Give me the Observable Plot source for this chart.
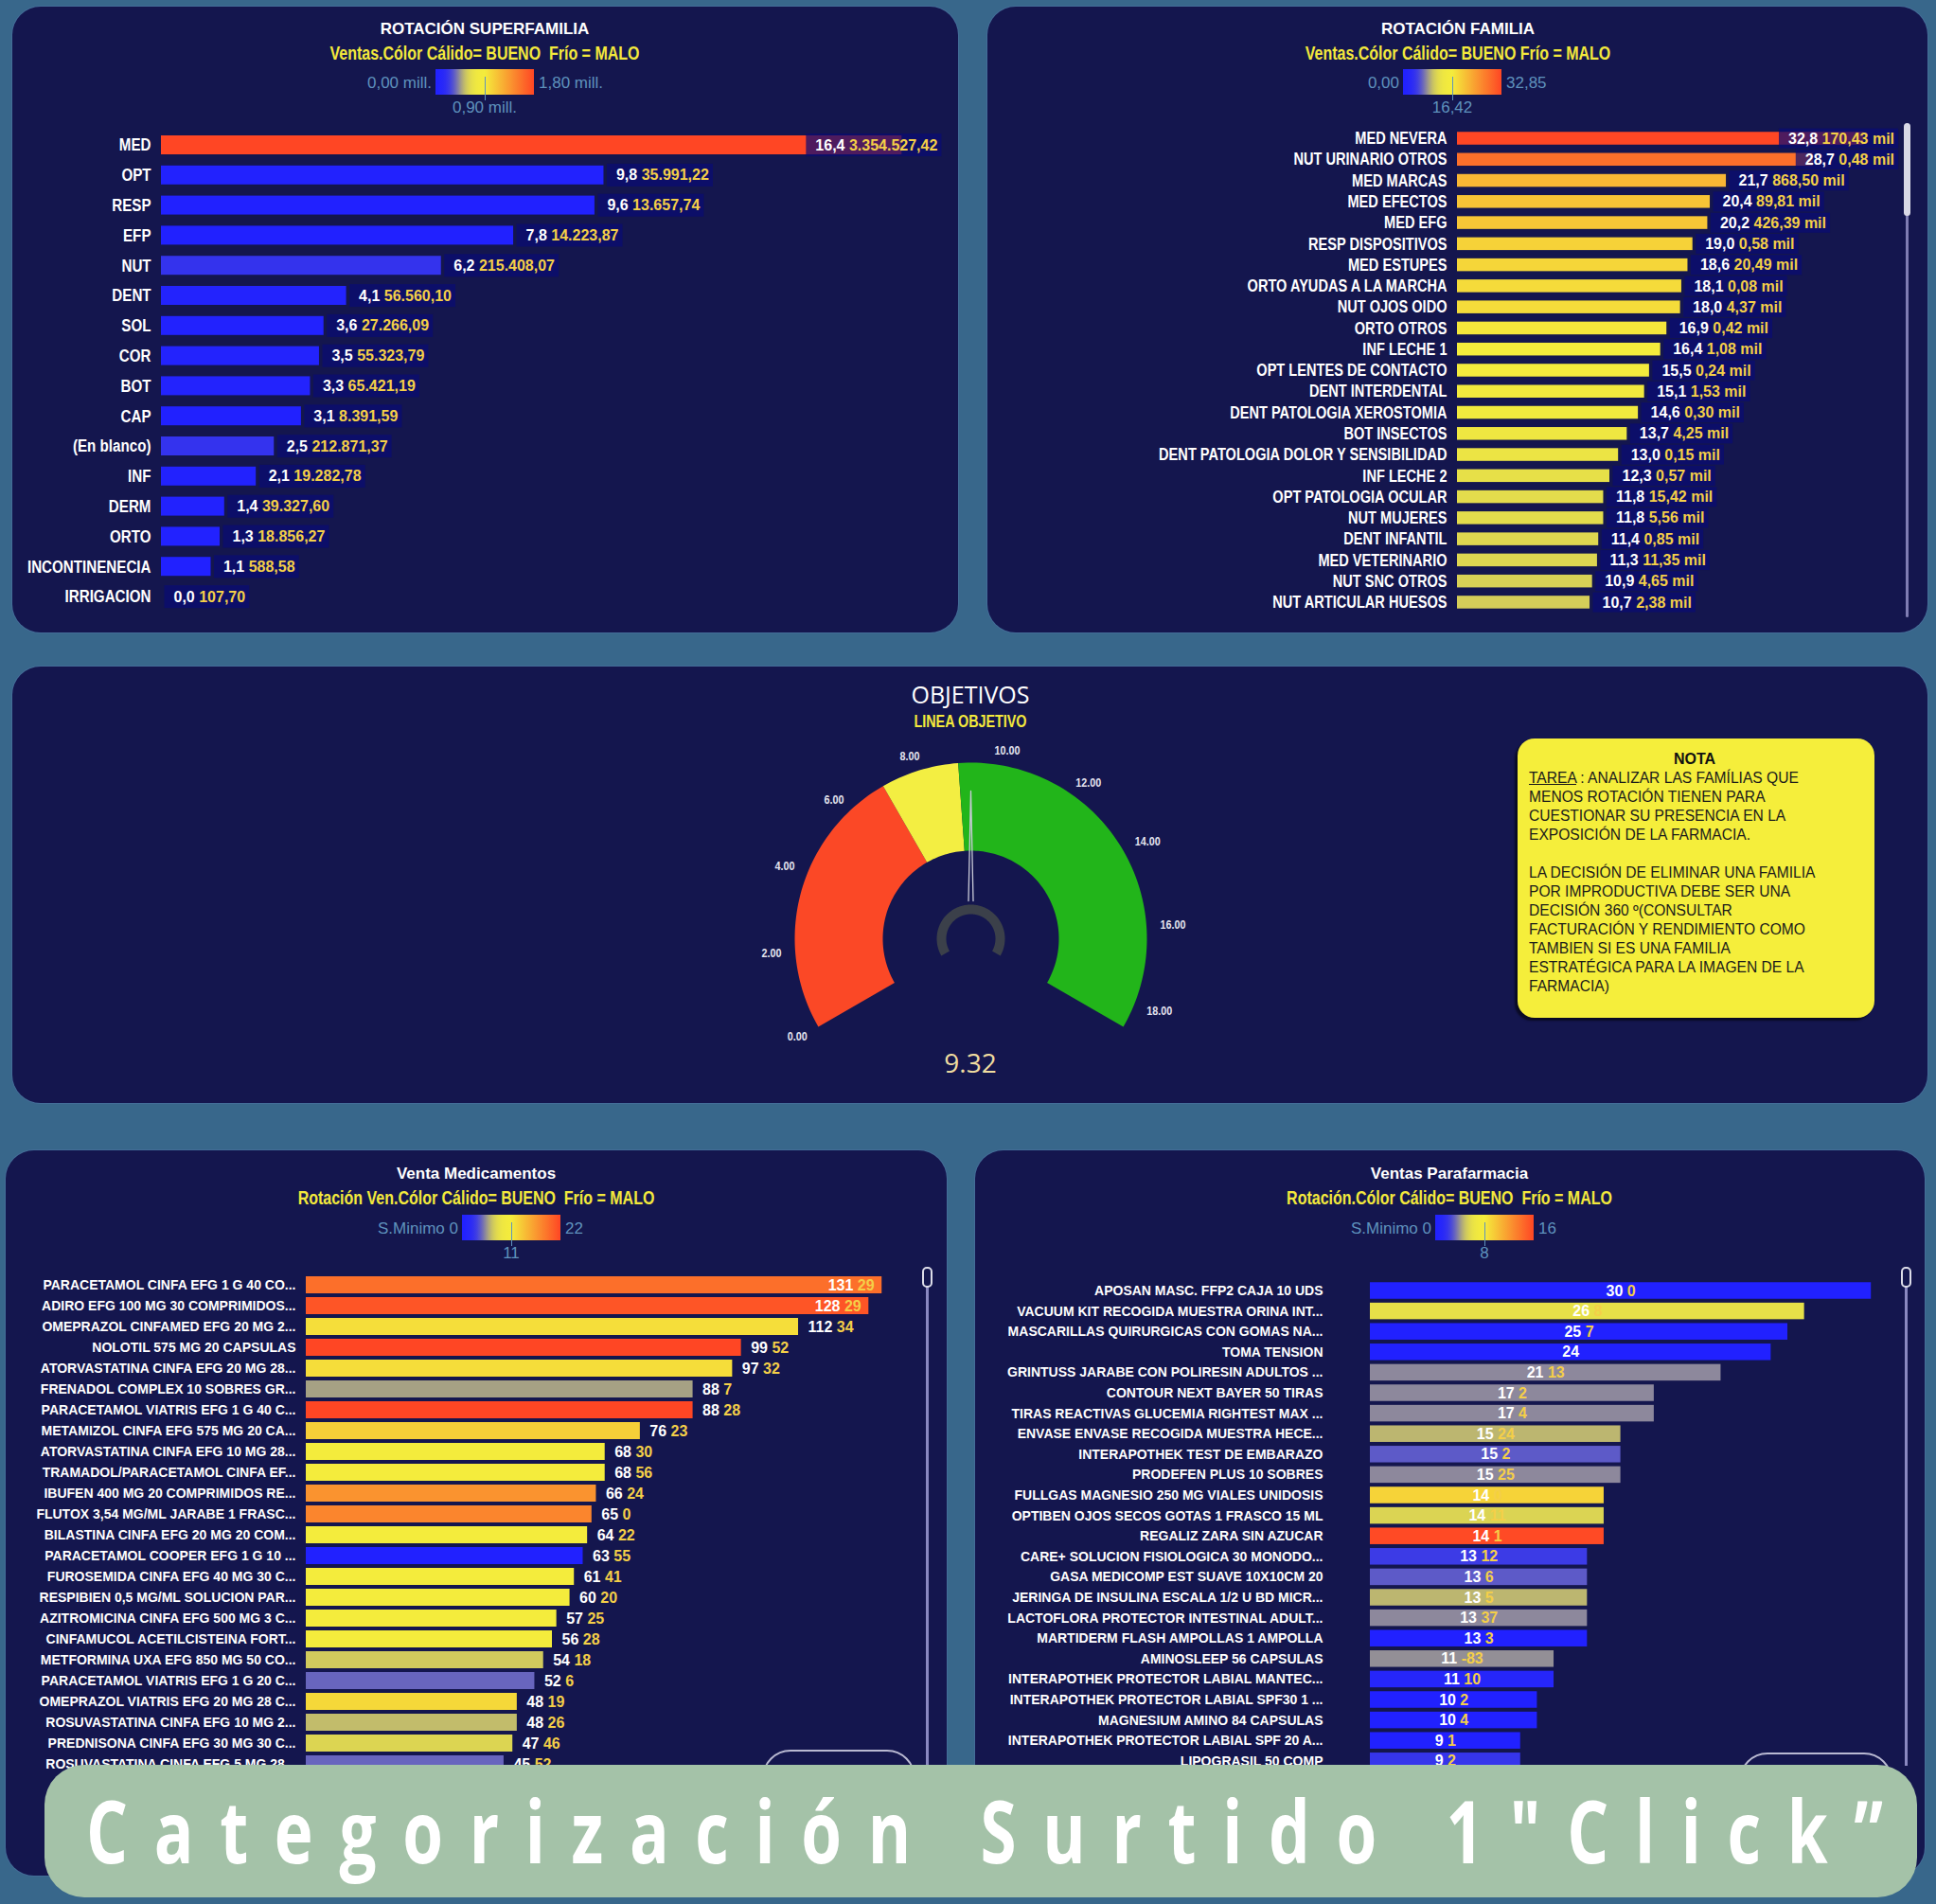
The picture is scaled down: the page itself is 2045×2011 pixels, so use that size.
<!DOCTYPE html>
<html lang="es"><head><meta charset="utf-8">
<script src="https://cdn.jsdelivr.net/npm/d3@7"></script>
<script src="https://cdn.jsdelivr.net/npm/@observablehq/plot@0.6"></script>
<style>
html,body{margin:0;padding:0}
body{width:2045px;height:2011px;background:#38678b;position:relative;overflow:hidden;font-family:'Liberation Sans',Arial,sans-serif}
.panel{position:absolute;background:#14164e;border-radius:30px;box-shadow:0 0 0 1px rgba(120,140,210,0.18)}
.t{position:absolute;white-space:pre;line-height:1}
.plotbox{position:absolute}
.plotbox svg{max-width:none;overflow:visible;display:block}
</style></head><body>
<script>
// ---------------- DATA ----------------
// Rotación Superfamilia
const supCats = ["MED","OPT","RESP","EFP","NUT","DENT","SOL","COR","BOT","CAP","(En blanco)","INF","DERM","ORTO","INCONTINENECIA","IRRIGACION"];
const supRot = [16.4,9.8,9.6,7.8,6.2,4.1,3.6,3.5,3.3,3.1,2.5,2.1,1.4,1.3,1.1,0.0];
const supSales = [3354527.42,35991.22,13657.74,14223.87,215408.07,56560.10,27266.09,55323.79,65421.19,8391.59,212871.37,19282.78,39327.60,18856.27,588.58,107.70];
const supLegend = ["0,00 mill.","0,90 mill.","1,80 mill."];
const supColorDomain = [0, 900000, 1800000];

// Rotación Familia
const famCats = ["MED NEVERA","NUT URINARIO OTROS","MED MARCAS","MED EFECTOS","MED EFG","RESP DISPOSITIVOS","MED ESTUPES","ORTO AYUDAS A LA MARCHA","NUT OJOS OIDO","ORTO OTROS","INF LECHE 1","OPT LENTES DE CONTACTO","DENT INTERDENTAL","DENT PATOLOGIA XEROSTOMIA","BOT INSECTOS","DENT PATOLOGIA DOLOR Y SENSIBILIDAD","INF LECHE 2","OPT PATOLOGIA OCULAR","NUT MUJERES","DENT INFANTIL","MED VETERINARIO","NUT SNC OTROS","NUT ARTICULAR HUESOS"];
const famRot = [32.8,28.7,21.7,20.4,20.2,19.0,18.6,18.1,18.0,16.9,16.4,15.5,15.1,14.6,13.7,13.0,12.3,11.8,11.8,11.4,11.3,10.9,10.7];
const famSalesMil = [170.43,0.48,868.50,89.81,426.39,0.58,20.49,0.08,4.37,0.42,1.08,0.24,1.53,0.30,4.25,0.15,0.57,15.42,5.56,0.85,11.35,4.65,2.38];
const famLegend = ["0,00","16,42","32,85"];
const famColorDomain = [0, 16.42, 32.85];

// Objetivos (gauge)
const gaugeValue = 9.32;
const gaugeMax = 18.64;
const gaugeBandFrom = [0, 7, 9];
const gaugeBandTo = [7, 9, 18.64];
const gaugeBandColor = ["#fb4826", "#f3ee42", "#22b51a"];
const gaugeTicks = [0,2,4,6,8,10,12,14,16,18];

// Venta Medicamentos
const medNames = ["PARACETAMOL CINFA EFG 1 G 40 CO...","ADIRO EFG 100 MG 30 COMPRIMIDOS...","OMEPRAZOL CINFAMED EFG 20 MG 2...","NOLOTIL 575 MG 20 CAPSULAS","ATORVASTATINA CINFA EFG 20 MG 28...","FRENADOL COMPLEX 10 SOBRES GR...","PARACETAMOL VIATRIS EFG 1 G 40 C...","METAMIZOL CINFA EFG 575 MG 20 CA...","ATORVASTATINA CINFA EFG 10 MG 28...","TRAMADOL/PARACETAMOL CINFA EF...","IBUFEN 400 MG 20 COMPRIMIDOS RE...","FLUTOX 3,54 MG/ML JARABE 1 FRASC...","BILASTINA CINFA EFG 20 MG 20 COM...","PARACETAMOL COOPER EFG 1 G 10 ...","FUROSEMIDA CINFA EFG 40 MG 30 C...","RESPIBIEN 0,5 MG/ML SOLUCION PAR...","AZITROMICINA CINFA EFG 500 MG 3 C...","CINFAMUCOL ACETILCISTEINA FORT...","METFORMINA UXA EFG 850 MG 50 CO...","PARACETAMOL VIATRIS EFG 1 G 20 C...","OMEPRAZOL VIATRIS EFG 20 MG 28 C...","ROSUVASTATINA CINFA EFG 10 MG 2...","PREDNISONA CINFA EFG 30 MG 30 C...","ROSUVASTATINA CINFA EFG 5 MG 28..."];
const medUnits = [131,128,112,99,97,88,88,76,68,68,66,65,64,63,61,60,57,56,54,52,48,48,47,45];
const medSecond = [29,29,34,52,32,7,28,23,30,56,24,0,22,55,41,20,25,28,18,6,19,26,46,52];
const medSMin = [19.3,21,11.9,22,12,5.8,22,12.9,11,11,16.9,17.8,11,0,11,11,11,11,7.0,4.4,12.3,6.5,7.5,4.4];
const medLegend = ["0","11","22"];
const medColorDomain = [0, 11, 22];

// Ventas Parafarmacia
const paraNames = ["APOSAN MASC. FFP2 CAJA 10 UDS","VACUUM KIT RECOGIDA MUESTRA ORINA INT...","MASCARILLAS QUIRURGICAS CON GOMAS NA...","TOMA TENSION","GRINTUSS JARABE CON POLIRESIN ADULTOS ...","CONTOUR NEXT BAYER 50 TIRAS","TIRAS REACTIVAS GLUCEMIA RIGHTEST MAX ...","ENVASE ENVASE RECOGIDA MUESTRA HECE...","INTERAPOTHEK TEST DE EMBARAZO","PRODEFEN PLUS 10 SOBRES","FULLGAS MAGNESIO 250 MG VIALES UNIDOSIS","OPTIBEN OJOS SECOS GOTAS 1 FRASCO 15 ML","REGALIZ ZARA SIN AZUCAR","CARE+ SOLUCION FISIOLOGICA 30 MONODO...","GASA MEDICOMP EST SUAVE 10X10CM 20","JERINGA DE INSULINA ESCALA 1/2 U BD MICR...","LACTOFLORA PROTECTOR INTESTINAL ADULT...","MARTIDERM FLASH AMPOLLAS 1 AMPOLLA","AMINOSLEEP 56 CAPSULAS","INTERAPOTHEK PROTECTOR LABIAL MANTEC...","INTERAPOTHEK PROTECTOR LABIAL SPF30 1 ...","MAGNESIUM AMINO 84 CAPSULAS","INTERAPOTHEK PROTECTOR LABIAL SPF 20 A...","LIPOGRASIL 50 COMP"];
const paraUnits = [30,26,25,24,21,17,17,15,15,15,14,14,14,13,13,13,13,13,11,11,10,10,9,9];
const paraSecond = ["0","8","7","","13","2","4","24","2","25","0","11","1","12","6","5","37","3","-83","10","2","4","1","2"];
const paraSMin = [0,6.0,0,0,3.8,3.8,3.8,4.6,3.0,3.8,9.2,5.4,15.8,2.2,3.0,4.6,3.8,0,3.9,1.0,0,0,0,2.0];
const paraLegend = ["0","8","16"];
const paraColorDomain = [0, 8, 16];

const noteLines = ["TAREA : ANALIZAR LAS FAMÍLIAS QUE","MENOS ROTACIÓN TIENEN PARA","CUESTIONAR SU PRESENCIA EN LA","EXPOSICIÓN DE LA FARMACIA.","","LA DECISIÓN DE ELIMINAR UNA FAMILIA","POR IMPRODUCTIVA DEBE SER UNA","DECISIÓN 360 º(CONSULTAR","FACTURACIÓN Y RENDIMIENTO COMO","TAMBIEN SI ES UNA FAMILIA","ESTRATÉGICA PARA LA IMAGEN DE LA","FARMACIA)"];

// ---------------- STYLE ----------------
const BLUE = "#2121ff", YEL = "#f4ec3c", RED = "#ff4624";
const ARIAL = "'Liberation Sans', Arial, sans-serif";
const LEG = "#5f92bd";
const SUBY = "#f3e93c";
const GOLD = "#f4cf48";

// colour interpolation of the Power BI diverging gradient (blue half eases quickly to yellow)
const SIG_K = 9.5, SIG_C = 0.47;
const sig = t => 1 / (1 + Math.exp(-SIG_K * (t - SIG_C)));
const S0 = sig(0), S1 = sig(1);
const ease = t => (sig(t) - S0) / (S1 - S0);
function pbiInterpolate(a, b){
  const i = d3.interpolateRgb(a, b);
  const ca = d3.rgb(a);
  const lower = ca.b > 200 && ca.r < 100;
  return t => i(lower ? ease(t) : t);
}
function colorScale(dom){ return {type:"linear", domain: dom, range:[BLUE, YEL, RED], interpolate: pbiInterpolate, clamp:true}; }

// narrow font: Liberation Sans Narrow if present, else Liberation Sans condensed by transform
const cv = document.createElement("canvas").getContext("2d");
function tw(font, s){ cv.font = font; return cv.measureText(s).width; }
const probe = "MED NEVERA ORTO AYUDAS INCONTINENECIA";
const HAS_NARROW = Math.abs(tw("bold 20px 'Liberation Sans Narrow', monospace", probe) - tw("bold 20px monospace", probe)) > 0.5;
const NARROWF = HAS_NARROW ? "'Liberation Sans Narrow', 'Liberation Sans', sans-serif" : ARIAL;
const CONDENSE = HAS_NARROW ? 1 : 0.82;

const NF = d3.formatLocale({decimal: ",", thousands: ".", grouping: [3], currency: ["", ""]});
const f2 = NF.format(",.2f"), f1 = NF.format(".1f");

// ---------------- HELPERS ----------------
function div(cls, css, text){
  const d = document.createElement("div");
  if (cls) d.className = cls;
  Object.assign(d.style, css);
  if (text != null) d.textContent = text;
  document.body.appendChild(d);
  return d;
}
function txt(x, y, s, css, anchor, sx){
  const sc = sx && sx !== 1 ? ` scaleX(${sx})` : "";
  const tr = anchor === "end" ? "translate(-100%,-50%)" : anchor === "start" ? "translate(0,-50%)" : "translate(-50%,-50%)";
  const origin = anchor === "end" ? "100% 50%" : anchor === "start" ? "0% 50%" : "50% 50%";
  return div("t", Object.assign({left: x + "px", top: y + "px", transform: tr + sc, transformOrigin: origin}, css), s);
}
function panel(x0, y0, x1, y1){ div("panel", {left: x0+"px", top: y0+"px", width: (x1-x0)+"px", height: (y1-y0)+"px"}); }
function gradientCSS(){
  const s = d3.scaleLinear().domain([0, .5, 1]).range([BLUE, YEL, RED]).interpolate(pbiInterpolate);
  return "linear-gradient(to right," + d3.range(0, 1.0001, 0.025).map(t => s(t) + " " + (t*100).toFixed(1) + "%").join(",") + ")";
}
function legend(cx, y, labels, lead){
  div(null, {position:"absolute", left:(cx-52)+"px", top:y+"px", width:"104px", height:"27px", background: gradientCSS()});
  div(null, {position:"absolute", left:cx+"px", top:(y+8)+"px", width:"1px", height:"25px", background: LEG});
  const st = {color: LEG, fontFamily: ARIAL, fontSize: "17px"};
  txt(cx - 56, y + 13.5, (lead ? lead + " " : "") + labels[0], st, "end");
  txt(cx + 57, y + 13.5, labels[2], st, "start");
  txt(cx, y + 40, labels[1], st);
}
function headers(cx, y, title, sub){
  txt(cx, y, title, {color:"#fff", fontFamily: ARIAL, fontWeight:"bold", fontSize:"17px"});
  txt(cx, y + 27, sub, {color: SUBY, fontFamily: NARROWF, fontWeight:"bold", fontSize: "19.5px"}, "middle", CONDENSE);
}
const SVGNS = "http://www.w3.org/2000/svg";
function condenseTexts(texts, factor){
  if (factor === 1) return;
  texts.forEach(t => {
    const r = t.getBoundingClientRect();
    const m = t.parentNode.getScreenCTM().inverse();
    const anchor = getComputedStyle(t).textAnchor;
    const px = anchor === "end" ? r.right : anchor === "start" ? r.left : (r.left + r.right) / 2;
    const p = new DOMPoint(px, r.top).matrixTransform(m);
    t.setAttribute("transform", `translate(${p.x},0) scale(${factor},1) translate(${-p.x},0) ` + (t.getAttribute("transform") || ""));
  });
}
function drawBars(o){
  const ml = o.barLeft - o.left;
  const xr = ml + o.ppu * o.xMax;
  const mr = o.width - xr;
  const pi = 1 - o.barH / o.step;
  const a = (o.yCenter0 - o.top) - o.barH / 2;
  const n = o.rows.length;
  const b = a + o.step * (n - pi);
  const center = o.mode === "center";
  const svg = Plot.plot({
    width: o.width, height: o.height,
    marginLeft: ml, marginRight: mr, marginTop: 0, marginBottom: 0,
    style: {background: "transparent", color: "#ffffff", fontFamily: o.yFamily, fontSize: o.yFont + "px", fontWeight: "bold", overflow: "visible"},
    x: {domain: [0, o.xMax], axis: null},
    y: {domain: o.rows.map(d => d.name), range: [a, b], round: false, paddingInner: pi, paddingOuter: 0, align: 0.5, tickSize: 0, tickPadding: o.tickPad, label: null},
    color: o.color,
    marks: [
      Plot.barX(o.rows, {x: "value", y: "name", fill: "colorValue"}),
      Plot.text(o.rows, {x: center ? (d => d.value / 2) : "value", y: "name", text: "label", textAnchor: center ? "middle" : "start", dx: center ? 0 : o.dx, fill: "#ffffff", fontFamily: ARIAL, fontSize: o.labelSize, fontWeight: "bold"})
    ]
  });
  const box = div("plotbox", {left: o.left + "px", top: o.top + "px", width: o.width + "px", height: o.height + "px", overflow: o.clip ? "hidden" : "visible"});
  box.appendChild(svg);
  const svgR = svg.getBoundingClientRect();
  const textG = svg.querySelector('g[aria-label="text"]');
  const texts = Array.from(textG.querySelectorAll("text"));
  // condensed category labels (axis tick labels)
  const tickTexts = Array.from(svg.querySelectorAll("text")).filter(t => !textG.contains(t));
  condenseTexts(tickTexts, o.yCondense || 1);
  // two-tone value labels
  texts.forEach(t => {
    const parts = t.textContent.split("|");
    t.textContent = "";
    const s1 = document.createElementNS(SVGNS, "tspan"); s1.setAttribute("fill", "#ffffff"); s1.textContent = parts[0]; t.appendChild(s1);
    if (parts.length > 1 && parts[1] !== "") { const s2 = document.createElementNS(SVGNS, "tspan"); s2.setAttribute("fill", o.gold); s2.textContent = " " + parts[1]; t.appendChild(s2); }
  });
  let bgG = null;
  if (o.bg) { bgG = document.createElementNS(SVGNS, "g"); svg.insertBefore(bgG, textG); }
  texts.forEach(t => {
    const r = t.getBoundingClientRect();
    let left = r.left - svgR.left, right = r.right - svgR.left;
    let shift = 0;
    if (!center && right > xr) shift = o.mode === "inside" ? -(r.width + o.dx + 8) : (xr - right);
    if (shift) { t.setAttribute("transform", `translate(${shift},0) ` + (t.getAttribute("transform") || "")); left += shift; right += shift; }
    if (bgG) {
      const cy = (r.top + r.bottom) / 2 - svgR.top;
      const rc = document.createElementNS(SVGNS, "rect");
      rc.setAttribute("x", left - 10); rc.setAttribute("y", cy - o.bgH / 2);
      rc.setAttribute("width", right - left + 14); rc.setAttribute("height", o.bgH);
      rc.setAttribute("fill", "#0a0b74"); rc.setAttribute("fill-opacity", "0.72");
      bgG.appendChild(rc);
    }
  });
}

// ---------------- PANELS ----------------
panel(13, 7, 1012, 668);
panel(1043, 7, 2036, 668);
panel(13, 704, 2036, 1165);
panel(6, 1215, 1000, 1981);
panel(1030, 1215, 2033, 1981);

// ---------------- TOP LEFT ----------------
headers(512, 30, "ROTACIÓN SUPERFAMILIA", "Ventas.Cólor Cálido= BUENO  Frío = MALO");
legend(512, 73, supLegend);
drawBars({
  left: 13, top: 128, width: 999, height: 530,
  barLeft: 170, ppu: 47.7, xMax: 17.2,
  yCenter0: 153, step: 31.8, barH: 20,
  rows: supCats.map((c, i) => ({name: c, value: supRot[i], colorValue: supSales[i], label: f1(supRot[i]) + "|" + f2(supSales[i])})),
  yFamily: NARROWF, yFont: 18.5, yCondense: CONDENSE, tickPad: 11,
  color: colorScale(supColorDomain),
  mode: "clamp", dx: 13, labelSize: 16, gold: GOLD, bg: true, bgH: 24
});

// ---------------- TOP RIGHT ----------------
headers(1540, 30, "ROTACIÓN FAMILIA", "Ventas.Cólor Cálido= BUENO Frío = MALO");
legend(1534, 73, famLegend);
drawBars({
  left: 1043, top: 118, width: 994, height: 540,
  barLeft: 1539, ppu: 13.09, xMax: 35.3,
  yCenter0: 146, step: 22.27, barH: 13.5,
  rows: famCats.map((c, i) => ({name: c, value: famRot[i], colorValue: famRot[i], label: f1(famRot[i]) + "|" + f2(famSalesMil[i]) + " mil"})),
  yFamily: NARROWF, yFont: 17.8, yCondense: CONDENSE, tickPad: 11,
  color: colorScale(famColorDomain),
  mode: "clamp", dx: 13, labelSize: 16, gold: GOLD, bg: true, bgH: 21
});
div(null, {position:"absolute", left:"2013px", top:"130px", width:"3px", height:"522px", background:"#7f7db3", borderRadius:"2px"});
div(null, {position:"absolute", left:"2011px", top:"130px", width:"7px", height:"98px", background:"#d9d9e6", borderRadius:"4px"});

// ---------------- MIDDLE (GAUGE) ----------------
txt(1025, 733, "OBJETIVOS", {color:"#fff", fontFamily:"'Open Sans', sans-serif", fontSize:"25px"});
txt(1025, 763, "LINEA OBJETIVO", {color: SUBY, fontFamily: NARROWF, fontWeight:"bold", fontSize:"17.5px"}, "middle", CONDENSE);

const gAngle = v => (210 - v / gaugeMax * 240) * Math.PI / 180;
function ring(from, to, r0, r1){
  const n = Math.max(2, Math.ceil((to - from) / gaugeMax * 160));
  const pts = [];
  for (let i = 0; i <= n; i++){ const a = gAngle(from + (to - from) * i / n); pts.push({x: r1 * Math.cos(a), y: r1 * Math.sin(a)}); }
  for (let i = n; i >= 0; i--){ const a = gAngle(from + (to - from) * i / n); pts.push({x: r0 * Math.cos(a), y: r0 * Math.sin(a)}); }
  return pts;
}
function needle(v){
  const a = gAngle(v), px = -Math.sin(a), py = Math.cos(a);
  const b0 = {x: 40 * Math.cos(a), y: 40 * Math.sin(a)};
  return [
    {x: b0.x + 2.5 * px, y: b0.y + 2.5 * py},
    {x: 156 * Math.cos(a), y: 156 * Math.sin(a)},
    {x: b0.x - 2.5 * px, y: b0.y - 2.5 * py}
  ];
}
const R_OUT = 186, R_IN = 93, R_LAB = 207;
const gaugeSvg = Plot.plot({
  width: 500, height: 380, margin: 0,
  style: {background: "transparent", overflow: "visible"},
  x: {domain: [-250, 250], axis: null},
  y: {domain: [-169, 211], axis: null},
  marks: [
    ...gaugeBandFrom.map((f, i) => Plot.line(ring(f, gaugeBandTo[i], R_IN, R_OUT), {x: "x", y: "y", fill: gaugeBandColor[i], stroke: "none"})),
    Plot.line(ring(0, gaugeMax, 26, 36), {x: "x", y: "y", fill: "#3b404a", stroke: "none"}),
    Plot.line(needle(gaugeValue), {x: "x", y: "y", stroke: "#c9cad8", strokeWidth: 1.3, fill: "none"}),
    Plot.text(gaugeTicks, {
      x: v => R_LAB * Math.cos(gAngle(v)) + (Math.cos(gAngle(v)) > 0.05 ? 7 : -4),
      y: v => R_LAB * Math.sin(gAngle(v)) - (Math.sin(gAngle(v)) > 0.5 ? 6 : 0),
      text: v => v.toFixed(2), fill: "#e4e4ee", fontFamily: ARIAL, fontWeight: "bold", fontSize: 12
    })
  ]
});
const gbox = div("plotbox", {left: "775px", top: "780px", width: "500px", height: "380px"});
gbox.appendChild(gaugeSvg);
condenseTexts(Array.from(gaugeSvg.querySelectorAll("text")), 0.9);
txt(1025, 1122, gaugeValue.toFixed(2), {color:"#f0dca0", fontFamily:"'Open Sans', sans-serif", fontSize:"28px"});

// note
div(null, {position:"absolute", left:"1603px", top:"780px", width:"377px", height:"295px", background:"#f5ee3b", borderRadius:"18px", boxShadow:"-3px 3px 2px rgba(0,0,0,0.55)"});
txt(1790, 802, "NOTA", {color:"#111", fontFamily: ARIAL, fontWeight:"bold", fontSize:"16px"});
const note = div(null, {position:"absolute", left:"1615px", top:"812px", color:"#1a1a1a", fontFamily: ARIAL, fontSize:"15.6px", lineHeight:"20px", whiteSpace:"pre"});
noteLines.forEach((l, i) => {
  const s = document.createElement("div");
  if (i === 0) { const u = document.createElement("u"); u.textContent = "TAREA"; s.appendChild(u); s.appendChild(document.createTextNode(l.slice(5))); }
  else s.textContent = l === "" ? " " : l;
  note.appendChild(s);
});

// ---------------- BOTTOM LEFT ----------------
headers(503, 1239, "Venta Medicamentos", "Rotación Ven.Cólor Cálido= BUENO  Frío = MALO");
legend(540, 1283, medLegend, "S.Minimo");
drawBars({
  left: 7, top: 1330, width: 993, height: 620, clip: true,
  barLeft: 323, ppu: 4.643, xMax: 138,
  yCenter0: 1357, step: 22, barH: 18,
  rows: medNames.map((c, i) => ({name: c, value: medUnits[i], colorValue: medSMin[i], label: medUnits[i] + "|" + medSecond[i]})),
  yFamily: ARIAL, yFont: 14, tickPad: 11,
  color: colorScale(medColorDomain),
  mode: "inside", dx: 10, labelSize: 16, gold: GOLD, bg: false
});
div(null, {position:"absolute", left:"978px", top:"1345px", width:"3px", height:"520px", background:"#8a88c0"});
div(null, {position:"absolute", left:"974px", top:"1338px", width:"7px", height:"18px", border:"2px solid #dcdce8", background:"#14164e", borderRadius:"5px"});
div(null, {position:"absolute", left:"805px", top:"1848px", width:"158px", height:"60px", border:"2px solid #b9b9d2", borderRadius:"30px"});

// ---------------- BOTTOM RIGHT ----------------
headers(1531, 1239, "Ventas Parafarmacia", "Rotación.Cólor Cálido= BUENO  Frío = MALO");
legend(1568, 1283, paraLegend, "S.Minimo");
drawBars({
  left: 1030, top: 1330, width: 1002, height: 560, clip: true,
  barLeft: 1447, ppu: 17.64, xMax: 31,
  yCenter0: 1363, step: 21.6, barH: 17.5,
  rows: paraNames.map((c, i) => ({name: c, value: paraUnits[i], colorValue: paraSMin[i], label: paraUnits[i] + (paraSecond[i] !== "" ? "|" + paraSecond[i] : "")})),
  yFamily: ARIAL, yFont: 14, tickPad: 50,
  color: colorScale(paraColorDomain),
  mode: "center", dx: 0, labelSize: 16, gold: GOLD, bg: false
});
div(null, {position:"absolute", left:"2012px", top:"1345px", width:"3px", height:"520px", background:"#8a88c0"});
div(null, {position:"absolute", left:"2008px", top:"1338px", width:"7px", height:"18px", border:"2px solid #dcdce8", background:"#14164e", borderRadius:"5px"});
div(null, {position:"absolute", left:"1837px", top:"1851px", width:"158px", height:"60px", border:"2px solid #b9b9d2", borderRadius:"30px"});

// ---------------- BANNER ----------------
const banner = document.createElementNS(SVGNS, "svg");
banner.setAttribute("width", 1978); banner.setAttribute("height", 140);
banner.style.position = "absolute"; banner.style.left = "47px"; banner.style.top = "1864px";
const br = document.createElementNS(SVGNS, "rect");
br.setAttribute("width", 1978); br.setAttribute("height", 140); br.setAttribute("rx", 42); br.setAttribute("fill", "#a4c2a8");
banner.appendChild(br);
const bt = document.createElementNS(SVGNS, "text");
bt.setAttribute("transform", "translate(44,104) scale(0.76,1)");
bt.setAttribute("x", 0); bt.setAttribute("y", 0);
bt.setAttribute("textLength", (1898 / 0.76).toFixed(1));
bt.setAttribute("lengthAdjust", "spacing");
bt.setAttribute("fill", "#ffffff");
bt.setAttribute("font-family", "'Open Sans', sans-serif");
bt.setAttribute("font-weight", "700");
bt.setAttribute("font-size", "91");
bt.textContent = "Categorización Surtido 1\"Click”";
banner.appendChild(bt);
document.body.appendChild(banner);
</script>
</body></html>
